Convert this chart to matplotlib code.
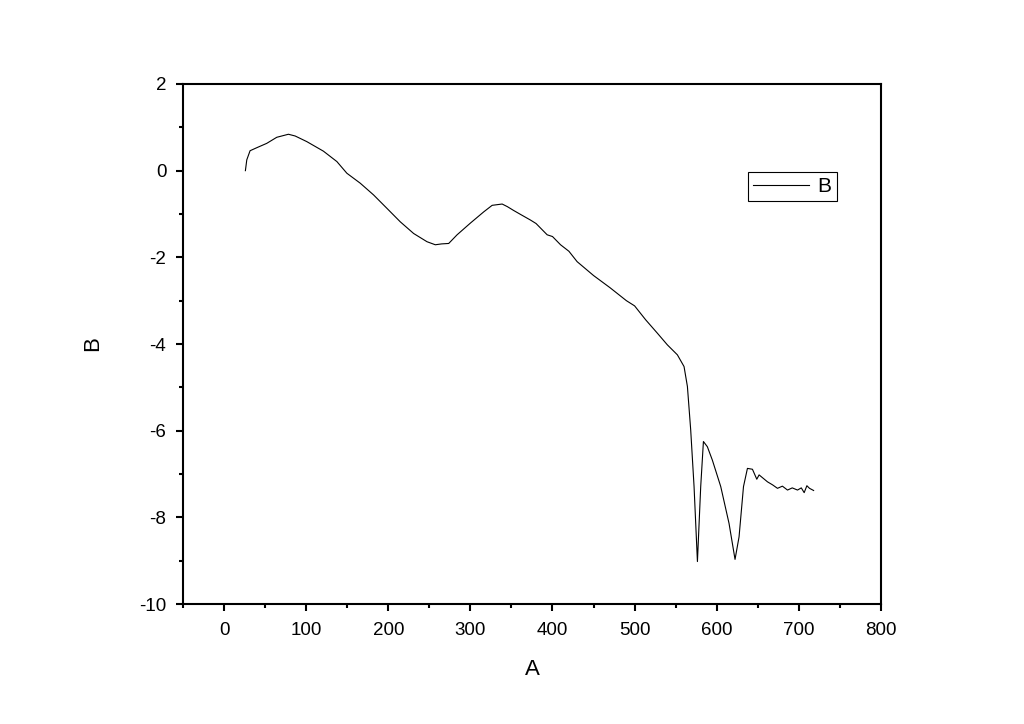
import matplotlib
matplotlib.use('Agg')
import matplotlib.pyplot as plt
from matplotlib.ticker import MultipleLocator

plt.rcParams['font.family'] = ['Liberation Sans', 'DejaVu Sans']
plt.rcParams['axes.unicode_minus'] = False

# valeurs
a_values = [26, 27.7, 31.7, 39.9, 52, 64.2, 78.4, 86.6, 100.8, 121, 137.4, 149.6,
            165.9, 182.1, 198.4, 214.6, 230.9, 247.2, 257.3, 265, 273.6, 283.8,
            300, 316.3, 326.5, 338.7, 345, 352.8, 362, 373.2, 380, 393.5, 400,
            409.8, 420, 430, 450, 470, 490, 500, 513.4, 527.7, 539.9, 552.1, 560.2,
            564.3, 568.3, 572.4, 576.5, 580.5, 583.8, 588.6, 594.7, 604.9, 615,
            622.3, 627.2, 632.6, 637.4, 643.5, 648.8, 651.6, 661.8, 668, 674, 680,
            686.2, 692, 698.4, 703, 706.5, 709.8, 713, 718]
b_values = [0, 0.25, 0.46, 0.53, 0.63, 0.77, 0.84, 0.80, 0.67, 0.45, 0.21, -0.06,
            -0.29, -0.56, -0.87, -1.18, -1.45, -1.64, -1.71, -1.69, -1.68, -1.48,
            -1.21, -0.95, -0.80, -0.77, -0.83, -0.92, -1.02, -1.14, -1.22, -1.48, -1.52,
            -1.71, -1.86, -2.10, -2.42, -2.70, -3.00, -3.12, -3.44, -3.75, -4.02, -4.25, -4.52,
            -4.98, -5.98, -7.29, -9.02, -7.29, -6.25, -6.37, -6.68, -7.29, -8.14,
            -8.97, -8.45, -7.29, -6.87, -6.89, -7.12, -7.02, -7.18, -7.25, -7.33, -7.28,
            -7.37, -7.32, -7.37, -7.32, -7.43, -7.27, -7.33, -7.38]

fig = plt.figure(figsize=(10.24, 7.24), dpi=100)
ax = fig.add_axes([0.1787, 0.1657, 0.6816, 0.7183])

ax.plot(a_values, b_values, color='black', linewidth=0.8, label='B')

ax.set_xlim(-50, 800)
ax.set_ylim(-10, 2)
ax.xaxis.set_major_locator(MultipleLocator(100))
ax.xaxis.set_minor_locator(MultipleLocator(50))
ax.yaxis.set_major_locator(MultipleLocator(2))
ax.yaxis.set_minor_locator(MultipleLocator(1))
ax.tick_params(which='both', direction='out', top=False, right=False, width=1.5,
               labelsize=13.5)
ax.tick_params(which='major', length=5)
ax.tick_params(which='minor', length=3)
ax.tick_params(axis='x', pad=8)
ax.tick_params(axis='y', pad=7)
for s in ax.spines.values():
    s.set_linewidth(1.5)

ax.set_xlabel('A', fontsize=16, labelpad=14)
ax.set_ylabel('B', fontsize=16, labelpad=26)

leg = ax.legend(loc='upper left', bbox_to_anchor=(0.809, 0.831), fontsize=15,
                fancybox=False, framealpha=1, borderaxespad=0, handlelength=2.7,
                borderpad=0.25, handletextpad=0.4)
leg.get_frame().set_edgecolor('black')
leg.get_frame().set_linewidth(0.8)

plt.savefig('out.png', dpi=100)
